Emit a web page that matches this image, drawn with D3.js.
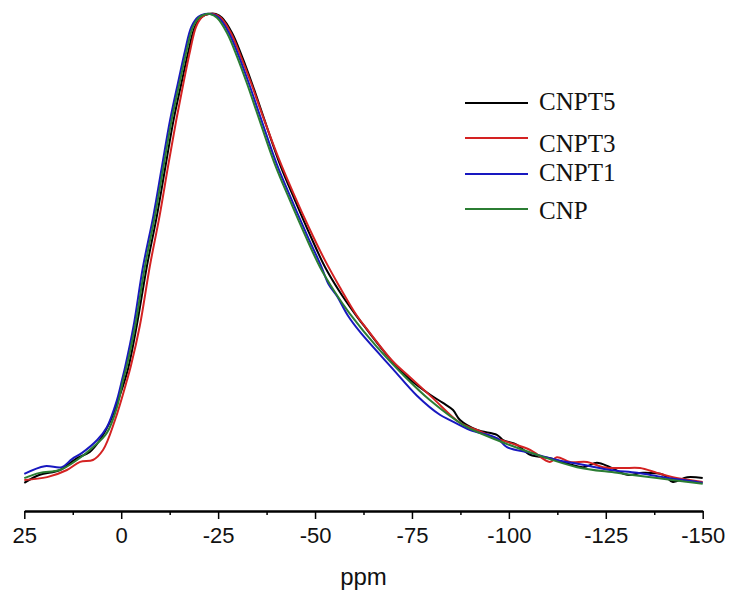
<!DOCTYPE html>
<html>
<head>
<meta charset="utf-8">
<script src="https://cdn.jsdelivr.net/npm/d3@7"></script>
<style>
body { margin: 0; background: white; }
</style>
</head>
<body>
<div id="drawing"></div>
<script>
"use strict"

/**** DATA (ppm, relative intensity) ****/

let seriesNames = ["CNPT5", "CNPT3", "CNPT1", "CNP"]

let cnpt5 = [
[25,1.5],[21.0,3.2],[15.8,4.2],[11.4,6.7],[8.1,8.0],[5.5,10.5],[2.9,14.3],[0.3,20.0],
[-1.8,25.6],[-4.0,34.5],[-6.6,46.9],[-9.2,57.6],[-11.4,67.9],[-13.5,77.7],[-15.7,86.1],
[-17.4,92.4],[-19.0,97.3],[-20.8,99.4],[-22.6,100],[-24.4,100],[-26.0,99.2],[-28.6,96.0],
[-31.2,91.0],[-33.7,85.5],[-36.6,78.6],[-41.0,68.3],[-44.8,60.9],[-48.7,53.6],[-52.6,46.8],
[-56.4,41.6],[-60.3,37.0],[-62.9,34.2],[-69.3,27.6],[-74.5,23.2],[-79.7,20.0],[-83.0,18.3],
[-85.6,16.8],[-87.4,14.7],[-91.8,12.6],[-96.9,11.6],[-98.5,10.5],[-102.1,9.5],[-105.5,7.4],
[-110.6,6.7],[-119.1,4.8],[-122.7,5.7],[-126.1,4.8],[-130.5,3.2],[-134.6,3.6],[-139.8,3.2],
[-142.3,1.7],[-146.0,2.7],[-150,2.5]
]

let cnpt3 = [
[25,2.1],[19.1,2.7],[14.0,4.2],[10.6,5.9],[7.3,6.3],[4.7,8.4],[1.6,14.7],[-1.5,23.1],
[-2.5,26.1],[-4.8,34.5],[-7.4,47.1],[-9.9,57.6],[-12.1,68.1],[-14.2,77.7],[-16.2,86.1],
[-17.8,92.4],[-19.3,97.3],[-20.9,99.4],[-22.4,100],[-23.9,100],[-25.7,99.2],[-28.3,96.0],
[-30.9,91.0],[-33.5,85.5],[-36.5,78.6],[-40.7,69.5],[-44.6,62.0],[-48.5,55.0],[-52.4,48.5],
[-56.4,42.6],[-60.8,36.6],[-63.4,33.8],[-70.1,27.0],[-74.5,23.7],[-80.4,19.3],[-87.4,14.1],
[-91.8,12.6],[-95.9,11.1],[-100.3,9.9],[-105.5,8.4],[-110.6,5.9],[-112.4,6.9],[-115.8,5.9],
[-120.2,5.9],[-124.3,4.8],[-129.4,4.6],[-133.8,4.6],[-138.2,3.6],[-142.3,2.7],[-150,1.7]
]

let cnpt1 = [
[25,3.4],[19.7,5.0],[15.3,4.8],[12.7,6.5],[10.1,7.8],[6.2,10.5],[3.7,13.2],[1.1,18.9],
[-0.2,23.1],[-1.0,25.8],[-3.2,34.5],[-5.6,46.8],[-8.3,57.6],[-10.5,67.9],[-12.6,77.7],
[-14.8,86.1],[-16.5,92.4],[-18.1,97.3],[-19.9,99.4],[-21.6,100],[-23.2,100],[-25.2,99.2],
[-27.8,96.0],[-30.4,91.0],[-32.9,85.5],[-35.8,78.6],[-40.2,68.3],[-44.0,60.9],[-47.9,53.6],
[-51.6,47.0],[-53.5,43.2],[-55.6,40.8],[-58.5,36.6],[-61.6,33.2],[-70.1,25.4],[-76.3,19.8],
[-82.2,15.8],[-84.8,14.7],[-90.0,12.6],[-96.9,10.9],[-99.5,9.0],[-105.5,7.8],[-112.4,6.3],
[-119.1,5.3],[-126.1,4.2],[-133.1,3.6],[-139.8,2.7],[-148.5,1.7],[-150,1.5]
]

let cnp = [
[25,2.5],[21.0,3.6],[15.8,4.2],[11.4,6.3],[7.3,9.0],[3.7,12.0],[1.1,17.4],[-0.5,23.1],
[-1.4,25.9],[-3.6,34.5],[-6.1,46.9],[-8.7,57.6],[-10.9,67.9],[-13.0,77.7],[-15.2,86.1],
[-16.9,92.4],[-18.5,97.3],[-20.3,99.4],[-22.0,100],[-22.9,100],[-24.7,99.2],[-27.3,96.0],
[-29.9,91.0],[-32.4,85.5],[-35.3,78.6],[-39.7,68.3],[-43.5,60.9],[-47.4,53.6],[-51.3,46.8],
[-55.1,41.6],[-59.0,37.0],[-66.0,30.0],[-72.7,24.2],[-79.6,18.9],[-88.2,13.7],[-96.9,10.5],
[-107.2,7.4],[-117.6,4.8],[-127.9,3.6],[-138.2,2.5],[-150,1.3]
]

let seriesValues = [cnpt5, cnpt3, cnpt1, cnp]
let seriesColors = ["#000000", "#d42222", "#1818c0", "#2b7d33"]

let majorTicks = [25, 0, -25, -50, -75, -100, -125, -150]
let minorTicks = [12.5, -12.5, -37.5, -62.5, -87.5, -112.5, -137.5]


/**** CONFIGURATION ****/

let svgWidth = 731
let svgHeight = 595

let xLeft = 24.3
let xRight = 702.7
let axisY = 511
let peakY = 14
let zeroY = 490

// legend layout: line y and text baseline for each entry
let legendLineY = [103, 138, 174, 209]
let legendTextY = [110, 152, 181, 219]


/**** CANVAS SETUP ****/

let svg = d3.select("#drawing")
.append("svg")
.attr("width", svgWidth)
.attr("height", svgHeight)
.style("display", "block")

svg.append("rect")
.attr("width", svgWidth)
.attr("height", svgHeight)
.attr("fill", "white")


/**** SCALES ****/

let xScale = d3.scaleLinear()
.domain([25, -150])
.range([xLeft, xRight])

let yScale = d3.scaleLinear()
.domain([0, 100])
.range([zeroY, peakY])


/**** SPECTRA ****/

let line = d3.line()
.x(d => xScale(d[0]))
.y(d => yScale(d[1]))
.curve(d3.curveCatmullRom.alpha(0.5))

let spectra = seriesNames.map((name, i) => ({name: name, values: seriesValues[i], color: seriesColors[i]}))

svg.selectAll("path.spectrum")
.data(spectra)
.join("path")
.attr("class", "spectrum")
.attr("d", d => line(d.values))
.attr("fill", "none")
.attr("stroke", d => d.color)
.attr("stroke-width", 2)
.attr("stroke-linejoin", "round")


/**** X AXIS ****/

let minorAxis = svg.append("g")
.attr("transform", "translate(0," + axisY + ")")
.call(d3.axisBottom(xScale).tickValues(minorTicks).tickSize(4).tickSizeOuter(0).tickFormat(""))

minorAxis.select(".domain").remove()
minorAxis.selectAll("line").attr("stroke-width", 1.5)

let xAxis = svg.append("g")
.attr("transform", "translate(0," + axisY + ")")
.call(d3.axisBottom(xScale)
    .tickValues(majorTicks)
    .tickSize(8)
    .tickSizeOuter(0)
    .tickPadding(8)
    .tickFormat(d => String(d)))

xAxis.select(".domain").attr("stroke-width", 2.5)
xAxis.selectAll(".tick line").attr("stroke-width", 1.5)
xAxis.selectAll("text")
.attr("fill", "#111")
.style("font-family", "'Liberation Sans', Arial, sans-serif")
.style("font-size", "22px")

svg.append("text")
.attr("x", (xLeft + xRight) / 2)
.attr("y", 585)
.style("text-anchor", "middle")
.style("font-family", "'Liberation Sans', Arial, sans-serif")
.style("font-size", "24px")
.attr("fill", "#111")
.text("ppm")


/**** LEGEND ****/

let legend = svg.append("g")

legend.selectAll("line")
.data(spectra)
.join("line")
.attr("x1", 465)
.attr("x2", 528)
.attr("y1", (d, i) => legendLineY[i])
.attr("y2", (d, i) => legendLineY[i])
.attr("stroke", d => d.color)
.attr("stroke-width", 2)

legend.selectAll("text")
.data(spectra)
.join("text")
.attr("x", 539)
.attr("y", (d, i) => legendTextY[i])
.style("font-family", "'Liberation Serif', 'Times New Roman', serif")
.style("font-size", "25px")
.attr("fill", "#111")
.text(d => d.name)
</script>
</body>
</html>
